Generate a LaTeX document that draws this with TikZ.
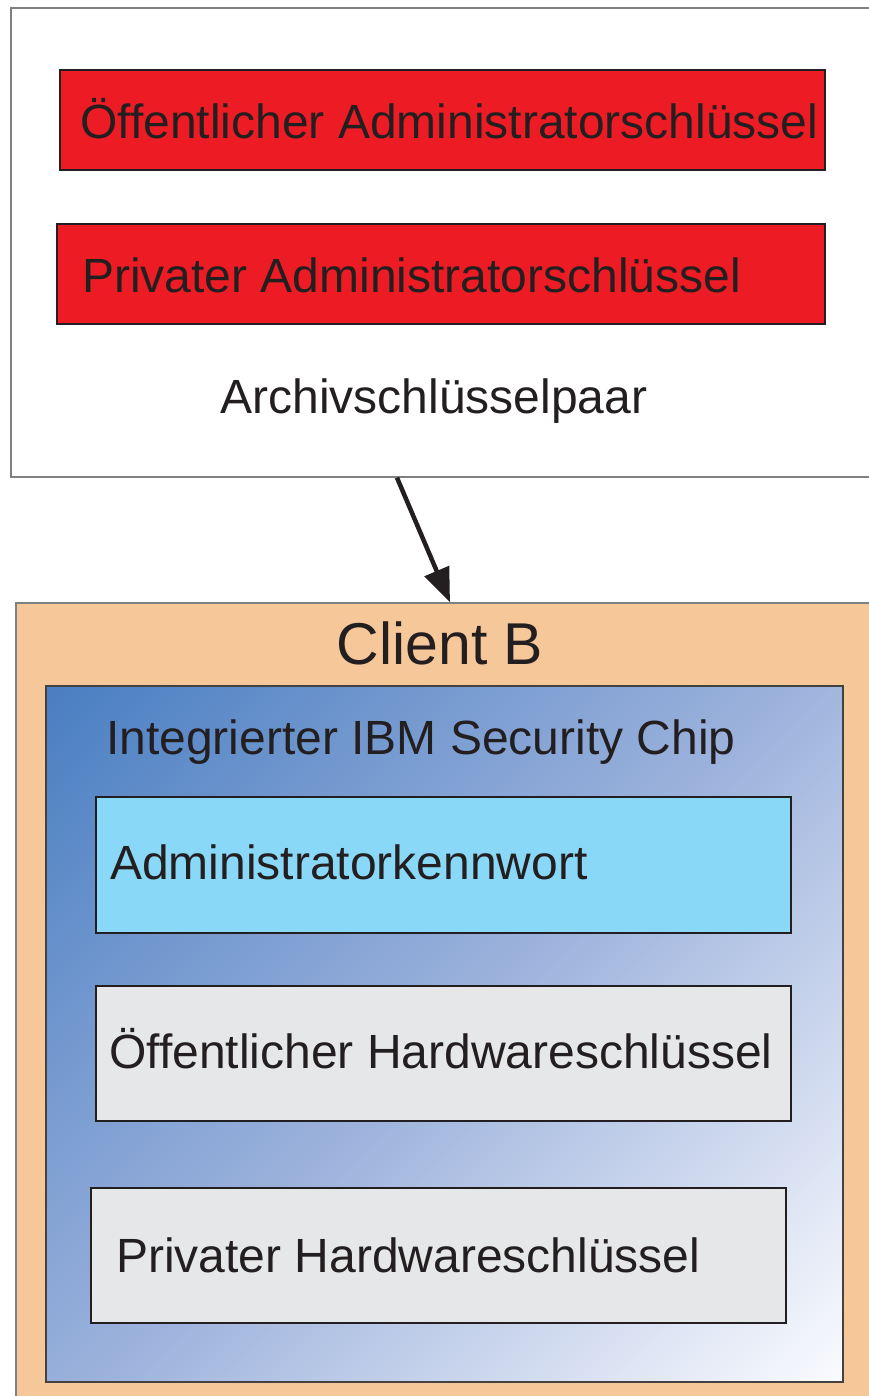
\documentclass[tikz,border=0pt]{standalone}
\usepackage{fontspec}
\setmainfont{Liberation Sans}
\usetikzlibrary{arrows.meta,positioning}
\definecolor{txt}{HTML}{231F20}
\definecolor{keyred}{HTML}{ED1C24}
\definecolor{peach}{HTML}{F5C799}
\definecolor{lblue}{HTML}{8AD8F7}
\definecolor{lgray}{HTML}{E6E7E8}
\definecolor{chiptop}{HTML}{4A7FC2}
\definecolor{chipmid}{HTML}{9CB2DC}
\definecolor{chipbot}{HTML}{F9FAFE}
\definecolor{frame}{HTML}{808080}
\pgfdeclareverticalshading{chipgrad}{100bp}{color(0bp)=(chipbot); color(15bp)=(chipbot); color(50bp)=(chipmid); color(85bp)=(chiptop); color(100bp)=(chiptop)}
\tikzset{
  px/.style={x=1pt,y=-1pt},
  panel/.style={draw=frame,line width=1.4pt,rectangle,inner sep=0pt},
  keybox/.style={draw=txt,line width=1.1pt,rectangle,inner sep=0pt},
  lbl/.style={anchor=base west,inner sep=0pt,text=txt,font=\fontsize{48}{56}\selectfont},
  clbl/.style={anchor=base,inner sep=0pt,text=txt,font=\fontsize{48}{56}\selectfont},
}
\begin{document}
\begin{tikzpicture}[px]
\useasboundingbox (0,0) rectangle (869,1396);
\fill[white] (0,0) rectangle (869,1396);
% archive box
\node[panel,fill=white,minimum width=869pt,minimum height=469pt] (archive) at (445.5,242.5) {};
\node[keybox,fill=keyred,minimum width=765pt,minimum height=100pt] (pubadm) at (442.5,120) {};
\node[lbl] (pubadmtxt) at (80,139) {Öffentlicher Administratorschlüssel};
\node[keybox,fill=keyred,minimum width=768pt,minimum height=100pt] (privadm) at (441,274) {};
\node[lbl] (privadmtxt) at (82,293) {Privater Administratorschlüssel};
\node[clbl] (archtxt) at (434,413) {Archivschlüsselpaar};
% client box
\node[panel,fill=peach,minimum width=864pt,minimum height=820pt] (client) at (448,1013) {};
\node[anchor=base,inner sep=0pt,text=txt,font=\fontsize{59}{66}\selectfont] (clienttxt) at (440,664) {Client B};
% chip
\node[draw=txt!85,line width=1.2pt,rectangle,inner sep=0pt,minimum width=797pt,minimum height=696pt,
  shade,shading=chipgrad,shading angle=45] (chip) at (444.5,1034) {};
\node[lbl] (chiptxt) at (106,754) {Integrierter IBM Security Chip};
\node[keybox,fill=lblue,minimum width=695pt,minimum height=136pt] (admpw) at (443.5,865) {};
\node[lbl] (admpwtxt) at (110,879) {Administratorkennwort};
\node[keybox,fill=lgray,minimum width=695pt,minimum height=135pt] (pubhw) at (443.5,1053.5) {};
\node[lbl] (pubhwtxt) at (109,1068) {Öffentlicher Hardwareschlüssel};
\node[keybox,fill=lgray,minimum width=695pt,minimum height=135pt] (privhw) at (438.5,1255.5) {};
\node[lbl] (privhwtxt) at (116,1272) {Privater Hardwareschlüssel};
% arrow
\draw[line width=4.5pt,txt,-{Triangle[length=34pt,width=26pt]}] ([xshift=-48.5pt]archive.south) -- ([xshift=2pt]client.north);
\end{tikzpicture}
\end{document}
